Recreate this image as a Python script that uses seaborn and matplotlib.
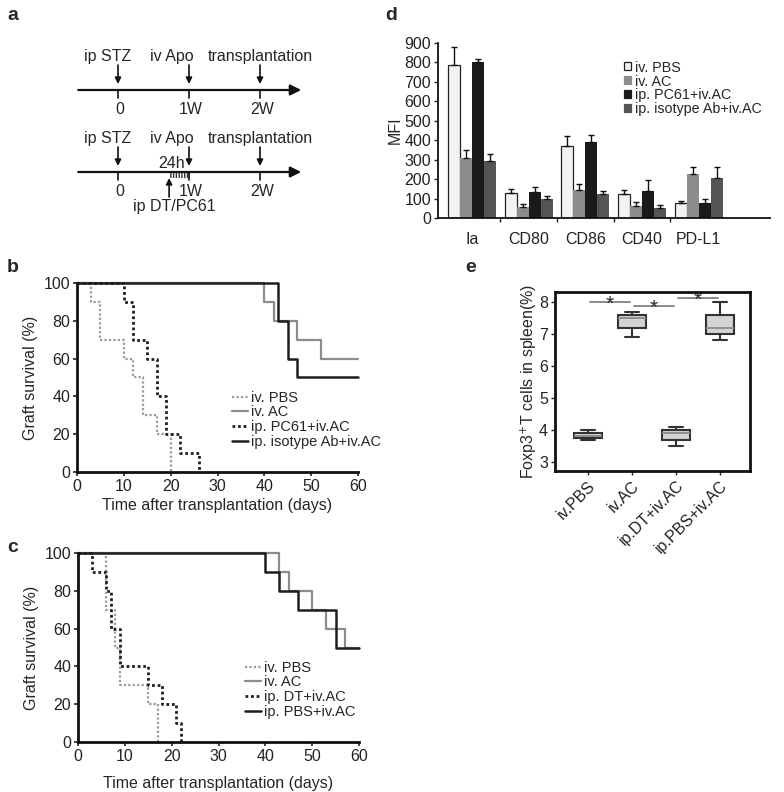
import numpy as np
import pandas as pd
import matplotlib
matplotlib.use("Agg")
import matplotlib.pyplot as plt
from matplotlib.patches import Rectangle, Patch
from matplotlib.lines import Line2D
import seaborn as sns

# panel a - protocol timeline
week_pos = [0, 1, 2]
week_labels = ["0", "1W", "2W"]
event_labels = ["ip STZ", "iv Apo", "transplantation"]
event_label_x = [-0.14, 0.76, 2.01]

# panel b - graft survival (Kaplan-Meier steps)
b_pbs_t = [0, 3, 5, 10, 12, 14, 17, 20]
b_pbs_s = [100, 90, 70, 60, 50, 30, 20, 0]
b_ac_t = [0, 40, 42, 47, 52, 60]
b_ac_s = [100, 90, 80, 70, 60, 60]
b_pc61_t = [0, 10, 12, 15, 17, 19, 22, 26]
b_pc61_s = [100, 90, 70, 60, 40, 20, 10, 0]
b_iso_t = [0, 43, 45, 47, 60]
b_iso_s = [100, 80, 60, 50, 50]
b_labels = ["iv. PBS", "iv. AC", "ip. PC61+iv.AC", "ip. isotype Ab+iv.AC"]

# panel c
c_pbs_t = [0, 6, 8, 9, 15, 17]
c_pbs_s = [100, 70, 50, 30, 20, 0]
c_ac_t = [0, 43, 45, 50, 53, 57, 60]
c_ac_s = [100, 90, 80, 70, 60, 50, 50]
c_dt_t = [0, 3, 6, 7, 9, 15, 18, 21, 22]
c_dt_s = [100, 90, 80, 60, 40, 30, 20, 10, 0]
c_pbsac_t = [0, 40, 43, 47, 55, 60]
c_pbsac_s = [100, 90, 80, 70, 50, 50]
c_labels = ["iv. PBS", "iv. AC", "ip. DT+iv.AC", "ip. PBS+iv.AC"]

# panel d - MFI
markers = ["Ia", "CD80", "CD86", "CD40", "PD-L1"]
mfi_pbs = [785, 129, 369, 123, 77]
mfi_ac = [309, 57, 146, 63, 226]
mfi_pc61 = [801, 134, 391, 139, 77]
mfi_iso = [291, 98, 125, 53, 204]
err_pbs = [95, 20, 55, 23, 9]
err_ac = [42, 15, 29, 21, 35]
err_pc61 = [17, 24, 38, 57, 22]
err_iso = [38, 17, 12, 16, 57]
d_labels = ["iv. PBS", "iv. AC", "ip. PC61+iv.AC", "ip. isotype Ab+iv.AC"]

# panel e - Foxp3+ T cells
e_groups = ["iv.PBS", "iv.AC", "ip.DT+iv.AC", "ip.PBS+iv.AC"]
foxp3_pbs = [3.7, 3.75, 3.8, 3.9, 4.0]
foxp3_ac = [6.9, 7.2, 7.5, 7.6, 7.7]
foxp3_dt = [3.5, 3.7, 3.9, 4.0, 4.1]
foxp3_pbsac = [6.8, 7.0, 7.2, 7.6, 8.0]
sig_pairs = [(0, 1), (1, 2), (2, 3)]
sig_heights = [8.0, 7.87, 8.13]

sns.set_style("ticks")
plt.rcParams["font.family"] = ["Liberation Sans", "DejaVu Sans"]
plt.rcParams["xtick.color"] = "#222222"
plt.rcParams["ytick.color"] = "#222222"

W, H = 784, 792
fig = plt.figure(figsize=(W / 100, H / 100), dpi=100)


def px_axes(left, top, right, bottom):
    return fig.add_axes([left / W, 1 - bottom / H, (right - left) / W, (bottom - top) / H])


# ---------------- panel a ----------------
ax_a = px_axes(0, 0, 400, 240)
ax_a.set_xlim((0 - 118) / 71, (400 - 118) / 71)
ax_a.set_ylim(240, 0)
ax_a.axis("off")
row_y = [90, 172]
fs_a = 11.5
for y in row_y:
    ax_a.annotate("", xy=(2.58, y), xytext=(-0.56, y),
                  arrowprops=dict(arrowstyle="-|>", lw=1.6, color="#111111", mutation_scale=16,
                                  shrinkA=0, shrinkB=0))
    for w, lab, lx in zip(week_pos, event_labels, event_label_x):
        ax_a.text(lx, y - 34, lab, ha="center", va="center", fontsize=fs_a)
        ax_a.annotate("", xy=(w, y - 6), xytext=(w, y - 25),
                      arrowprops=dict(arrowstyle="-|>", lw=1.2, color="#111111", mutation_scale=9,
                                      shrinkA=0, shrinkB=0))
    for w, lab in zip(week_pos, week_labels):
        ax_a.plot([w, w], [y, y + 8], color="#111111", lw=1.2)
        ax_a.text(w + 0.03, y + 20, lab, ha="center", va="center", fontsize=fs_a)
ax_a.text(0.76, row_y[1] - 9, "24h", ha="center", va="center", fontsize=fs_a)
ax_a.add_patch(Rectangle((0.72, row_y[1]), 0.3, 6, fill=False, hatch="||||||",
                         edgecolor="#333333", lw=0))
ax_a.annotate("", xy=(0.72, row_y[1] + 6), xytext=(0.72, row_y[1] + 25),
              arrowprops=dict(arrowstyle="-|>", lw=1.2, color="#111111", mutation_scale=9,
                              shrinkA=0, shrinkB=0))
ax_a.text(0.80, row_y[1] + 35, "ip DT/PC61", ha="center", va="center", fontsize=fs_a)

# ---------------- survival panels ----------------
styles = [dict(color="#9a9a9a", ls=(0, (1, 1)), lw=1.6),
          dict(color="#8c8c8c", ls="-", lw=1.6),
          dict(color="#1e1e1e", ls=(0, (1, 1)), lw=2.0),
          dict(color="#1e1e1e", ls="-", lw=1.8)]


def survival_panel(ax, curves, labels, leg_anchor):
    handles = []
    for (t, s), st, lab in zip(curves, styles, labels):
        sns.lineplot(x=t, y=s, drawstyle="steps-post", color=st["color"], lw=st["lw"],
                     ax=ax, clip_on=False, estimator=None)
        ax.lines[-1].set_linestyle(st["ls"])
        handles.append(Line2D([], [], color=st["color"], ls=st["ls"], lw=st["lw"]))
    ax.set_xlim(0, 60)
    ax.set_ylim(0, 100)
    ax.set_xticks(range(0, 61, 10))
    ax.set_yticks(range(0, 101, 20))
    ax.tick_params(labelsize=11.5, length=3, width=1.2, pad=2)
    for sp in ["left", "bottom"]:
        ax.spines[sp].set_linewidth(2.0)
        ax.spines[sp].set_color("#111111")
    sns.despine(ax=ax)
    ax.set_ylabel("Graft survival (%)", fontsize=11.5, labelpad=4)
    ax.set_xlabel("Time after transplantation (days)", fontsize=11.5, labelpad=3)
    ax.legend(handles, labels, loc="upper left", bbox_to_anchor=leg_anchor, frameon=False,
              fontsize=10.5, handlelength=1.1, handletextpad=0.2, labelspacing=0.05,
              borderpad=0, borderaxespad=0)


ax_b = px_axes(77, 283, 358, 472)
survival_panel(ax_b, [(b_pbs_t, b_pbs_s), (b_ac_t, b_ac_s), (b_pc61_t, b_pc61_s), (b_iso_t, b_iso_s)],
               b_labels, (0.55, 0.43))

ax_c = px_axes(78, 553, 359, 742)
survival_panel(ax_c, [(c_pbs_t, c_pbs_s), (c_ac_t, c_ac_s), (c_dt_t, c_dt_s), (c_pbsac_t, c_pbsac_s)],
               c_labels, (0.595, 0.43))
ax_c.xaxis.labelpad = 9

# ---------------- panel d ----------------
ax_d = px_axes(438, 43, 770, 218)
d_colors = ["#f2f2f2", "#8c8c8c", "#1a1a1a", "#555555"]
df_d = pd.DataFrame({
    "marker": markers * 4,
    "group": sum([[g] * len(markers) for g in d_labels], []),
    "mfi": mfi_pbs + mfi_ac + mfi_pc61 + mfi_iso,
})
sns.barplot(data=df_d, x="marker", y="mfi", hue="group", hue_order=d_labels,
            palette=d_colors, width=0.85, gap=0, errorbar=None, saturation=1,
            linewidth=0, ax=ax_d, legend=False)
for cont, errs in zip(ax_d.containers, [err_pbs, err_ac, err_pc61, err_iso]):
    xs = [p.get_x() + p.get_width() / 2 for p in cont.patches]
    ys = [p.get_height() for p in cont.patches]
    ax_d.errorbar(xs, ys, yerr=[np.zeros(len(errs)), errs], fmt="none", ecolor="#111111",
                  elinewidth=1.0, capsize=2.2, capthick=1.0, zorder=1)
for p in ax_d.containers[0].patches:
    p.set_edgecolor("#222222")
    p.set_linewidth(0.9)
ax_d.set_xlim(-0.6, 5.26)
ax_d.set_ylim(0, 900)
ax_d.set_yticks(range(0, 901, 100))
ax_d.set_xticks(range(len(markers)))
ax_d.set_xticklabels(markers)
ax_d.set_xticks(np.arange(len(markers) - 1) + 0.5, minor=True)
ax_d.tick_params(axis="x", which="major", length=0, pad=10, labelsize=11.5)
ax_d.tick_params(axis="x", which="minor", length=3, width=1)
ax_d.tick_params(axis="y", length=3, width=1, pad=2, labelsize=11.5)
sns.despine(ax=ax_d)
for sp in ["left", "bottom"]:
    ax_d.spines[sp].set_linewidth(1.3)
    ax_d.spines[sp].set_color("#111111")
ax_d.set_xlabel("")
ax_d.set_ylabel("MFI", fontsize=11.5, labelpad=1)
d_handles = [Patch(facecolor=c, edgecolor="#222222" if i == 0 else c, lw=0.9)
             for i, c in enumerate(d_colors)]
ax_d.legend(d_handles, d_labels, loc="upper left", bbox_to_anchor=(0.56, 0.9), frameon=False,
            fontsize=10.3, handlelength=0.5, handleheight=0.5, handletextpad=0.25,
            labelspacing=0.0, borderpad=0, borderaxespad=0)

# ---------------- panel e ----------------
ax_e = px_axes(555, 292, 750, 471)
df_e = pd.DataFrame({
    "group": sum([[g] * 5 for g in e_groups], []),
    "value": foxp3_pbs + foxp3_ac + foxp3_dt + foxp3_pbsac,
})
sns.boxplot(data=df_e, x="group", y="value", order=e_groups, color="#d3d3d3", saturation=1,
            width=0.62, linecolor="#333333", linewidth=1.5,
            medianprops=dict(color="#8a8a8a", lw=1.3), ax=ax_e)
for (a, b), h in zip(sig_pairs, sig_heights):
    ax_e.plot([a + 0.04, b - 0.04], [h, h], color="#8a8a8a", lw=1.4)
    ax_e.text((a + b) / 2, h - 0.24, "*", ha="center", va="baseline", fontsize=15)
ax_e.set_xlim(-0.75, 3.68)
ax_e.set_ylim(2.72, 8.31)
ax_e.set_yticks(range(3, 9))
ax_e.tick_params(axis="y", length=3, width=1, pad=2, labelsize=11.5)
ax_e.tick_params(axis="x", length=3, width=1, pad=2, labelsize=11.5)
plt.setp(ax_e.get_xticklabels(), rotation=45, ha="right", rotation_mode="anchor")
for sp in ax_e.spines.values():
    sp.set_linewidth(2.0)
    sp.set_color("#111111")
ax_e.set_xlabel("")
ax_e.set_ylabel("Foxp3$^{+}$T cells in spleen(%)", fontsize=11.5, labelpad=0)

# panel letters
for lab, x, y in [("a", 7, 15), ("b", 7, 267), ("c", 7, 548), ("d", 385, 15), ("e", 465, 268)]:
    fig.text(x / W, 1 - y / H, lab, fontsize=14, fontweight="bold", ha="left", va="center")

fig.savefig("out.png", dpi=100)
